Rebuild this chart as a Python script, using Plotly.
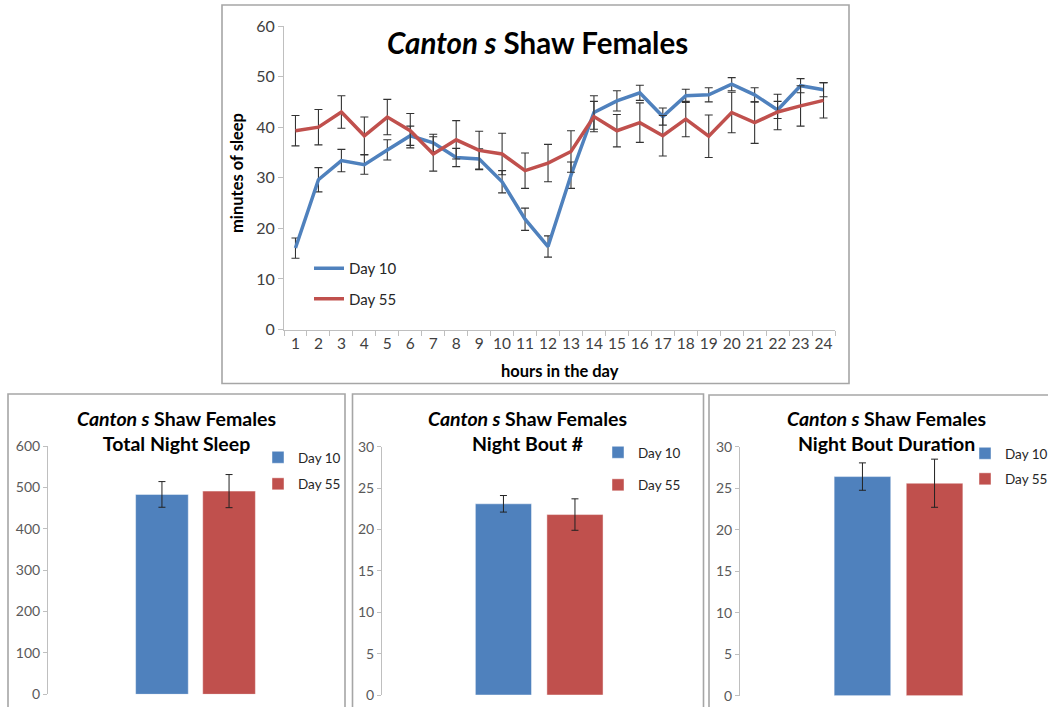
import plotly.graph_objects as go

# ---------------- data ----------------
hours = [str(h) for h in range(1, 25)]
day10_sleep = [16.1, 29.6, 33.4, 32.6, 35.5, 38.3, 36.9, 34.0, 33.7, 29.2, 21.8, 16.4,
               30.5, 42.9, 45.2, 46.8, 42.1, 46.2, 46.4, 48.5, 46.4, 43.4, 48.2, 47.4]
day10_err = [2.0, 2.4, 2.2, 1.9, 2.0, 1.9, 1.7, 1.8, 2.0, 2.2, 2.2, 2.1,
             2.6, 3.3, 2.0, 1.5, 1.7, 1.3, 1.4, 1.3, 1.4, 1.7, 1.4, 1.4]
day55_sleep = [39.3, 40.0, 43.0, 38.3, 42.0, 39.3, 34.7, 37.5, 35.4, 34.7, 31.4, 32.9,
               35.2, 42.1, 39.3, 40.9, 38.3, 41.6, 38.2, 42.9, 40.9, 43.0, 44.2, 45.3]
day55_err = [3.0, 3.5, 3.2, 3.7, 3.5, 3.4, 3.4, 3.8, 3.8, 4.1, 3.5, 3.7,
             4.1, 3.0, 3.2, 3.9, 4.0, 3.5, 4.2, 4.0, 4.1, 3.5, 4.0, 3.5]

groups = ["Day 10", "Day 55"]
night_category = ["Night"]
total_night_sleep = [483, 491]
total_night_sleep_err = [31, 40]
night_bout_num = [23.1, 21.8]
night_bout_num_err = [1.0, 1.9]
night_bout_dur = [26.4, 25.6]
night_bout_dur_err = [1.65, 2.9]

BLUE = "#4F81BD"
RED = "#C0504D"
COLORS = [BLUE, RED]
FONT = "Lato"
W, H = 1048, 707


def px_x(p):
    return p / W


def px_y(p):
    return 1 - p / H


fig = go.Figure()

# ---------------- top line chart ----------------
for name, vals, errs, col, grp in [("Day 10", day10_sleep, day10_err, BLUE, "a"),
                                   ("Day 55", day55_sleep, day55_err, RED, "b")]:
    fig.add_trace(go.Scatter(
        x=hours, y=vals, mode="lines", name=name,
        line=dict(color=col, width=3.5),
        error_y=dict(type="data", array=errs, color="#333333", thickness=1.1, width=4),
        xaxis="x", yaxis="y", legend="legend", legendgroup=grp,
    ))

# ---------------- bottom bar charts ----------------
bar_sets = [
    (total_night_sleep, total_night_sleep_err, "x2", "y2", "legend2"),
    (night_bout_num, night_bout_num_err, "x3", "y3", "legend3"),
    (night_bout_dur, night_bout_dur_err, "x4", "y4", "legend4"),
]
for vals, errs, xa, ya, lg in bar_sets:
    for i, name in enumerate(groups):
        fig.add_trace(go.Bar(
            x=night_category, y=[vals[i]], name=name,
            marker=dict(color=COLORS[i], line=dict(color="rgba(255,255,255,0.45)", width=1)),
            error_y=dict(type="data", array=[errs[i]], color="#222222", thickness=1, width=3.5),
            xaxis=xa, yaxis=ya, legend=lg, legendgroup=lg + name,
        ))

axis_line = "#BFBFBF"
tick_col = "#404040"

layout = dict(
    width=W, height=H,
    margin=dict(l=0, r=0, t=0, b=0, autoexpand=False),
    paper_bgcolor="white", plot_bgcolor="white",
    font=dict(family=FONT, color=tick_col),
    barmode="group", bargap=0.545, bargroupgap=0.215,
    xaxis=dict(domain=[px_x(284), px_x(835)], anchor="y", type="category",
               range=[-0.5, 23.5], tickson="boundaries", ticks="outside", ticklen=5,
               tickangle=0,
               tickcolor=axis_line, showline=True, linecolor=axis_line, linewidth=1,
               showgrid=False, zeroline=False, tickfont=dict(size=15.5, color=tick_col)),
    yaxis=dict(domain=[px_y(329.5), px_y(26)], anchor="x", range=[0, 60], dtick=10,
               ticks="outside", ticklen=5, tickcolor=axis_line, showline=True,
               linecolor=axis_line, linewidth=1, showgrid=False, zeroline=False,
               tickfont=dict(size=16, color=tick_col)),
)

bar_axes = [
    ("xaxis2", "yaxis2", "x2", "y2", 48, 343, [-0.5, 0.5], 694.3, 446, [0, 600], 100),
    ("xaxis3", "yaxis3", "x3", "y3", 382, 696.4, [-0.5, 0.5], 695, 446.7, [0, 30], 5),
    ("xaxis4", "yaxis4", "x4", "y4", 740, 1048, [-0.5, 0.4716], 695.7, 446.7, [0, 30], 5),
]
for xk, yk, xn, yn, x0, x1, xr, yb, yt, yr, dt in bar_axes:
    layout[xk] = dict(domain=[px_x(x0), px_x(x1)], anchor=yn, range=xr,
                      showticklabels=False, showline=False, ticks="", showgrid=False,
                      zeroline=False)
    layout[yk] = dict(domain=[px_y(yb), px_y(yt)], anchor=xn, range=yr, dtick=dt,
                      ticks="outside", ticklen=4, tickcolor=axis_line, showline=True,
                      linecolor=axis_line, linewidth=1, showgrid=False, zeroline=False,
                      tickfont=dict(size=14, color="#595959"))

# legends
layout["legend"] = dict(x=px_x(309), y=px_y(252), xanchor="left", yanchor="top",
                        bgcolor="rgba(0,0,0,0)", font=dict(size=15, color="#262626"),
                        traceorder="grouped", tracegroupgap=8)
layout["legend2"] = dict(x=px_x(258), y=px_y(442), xanchor="left", yanchor="top",
                         bgcolor="rgba(0,0,0,0)", font=dict(size=13.5, color="#262626"),
                         traceorder="grouped", tracegroupgap=6)
layout["legend3"] = dict(x=px_x(598), y=px_y(437), xanchor="left", yanchor="top",
                         bgcolor="rgba(0,0,0,0)", font=dict(size=13.5, color="#262626"),
                         traceorder="grouped", tracegroupgap=12)
layout["legend4"] = dict(x=px_x(965), y=px_y(438), xanchor="left", yanchor="top",
                         bgcolor="rgba(0,0,0,0)", font=dict(size=13.5, color="#262626"),
                         traceorder="grouped", tracegroupgap=5)

# annotations (titles)
ann = [
    dict(text="<b><i>Canton s</i> Shaw Females</b>", x=px_x(537), y=px_y(42),
         font=dict(size=29.5, color="black")),
    dict(text="<b>minutes of sleep</b>", x=px_x(237), y=px_y(173), textangle=-90,
         font=dict(size=16.5, color="black")),
    dict(text="<b>hours in the day</b>", x=px_x(560), y=px_y(371),
         font=dict(size=16.5, color="black")),
]
for cx, sub in [(176.5, "Total Night Sleep"), (527.5, "Night Bout #"),
                (886, "Night Bout Duration")]:
    ann.append(dict(text="<b><i>Canton s</i> Shaw Females<br>" + sub + "</b>",
                    x=px_x(cx), y=px_y(430.5), font=dict(size=19.5, color="black")))
for a in ann:
    a.update(xref="paper", yref="paper", showarrow=False, xanchor="center", yanchor="middle")
layout["annotations"] = ann

# chart borders
boxes = [(222, 5, 849, 383.5), (8, 394, 345, 760), (352.5, 394, 703.5, 760), (709, 395, 1100, 760)]
layout["shapes"] = [dict(type="rect", xref="paper", yref="paper",
                         x0=px_x(a), x1=px_x(c), y0=px_y(d), y1=px_y(b),
                         line=dict(color="#A6A6A6", width=1.6), fillcolor="rgba(0,0,0,0)",
                         layer="below")
                    for a, b, c, d in boxes]

fig.update_layout(**layout)
fig.write_html("out.html")
